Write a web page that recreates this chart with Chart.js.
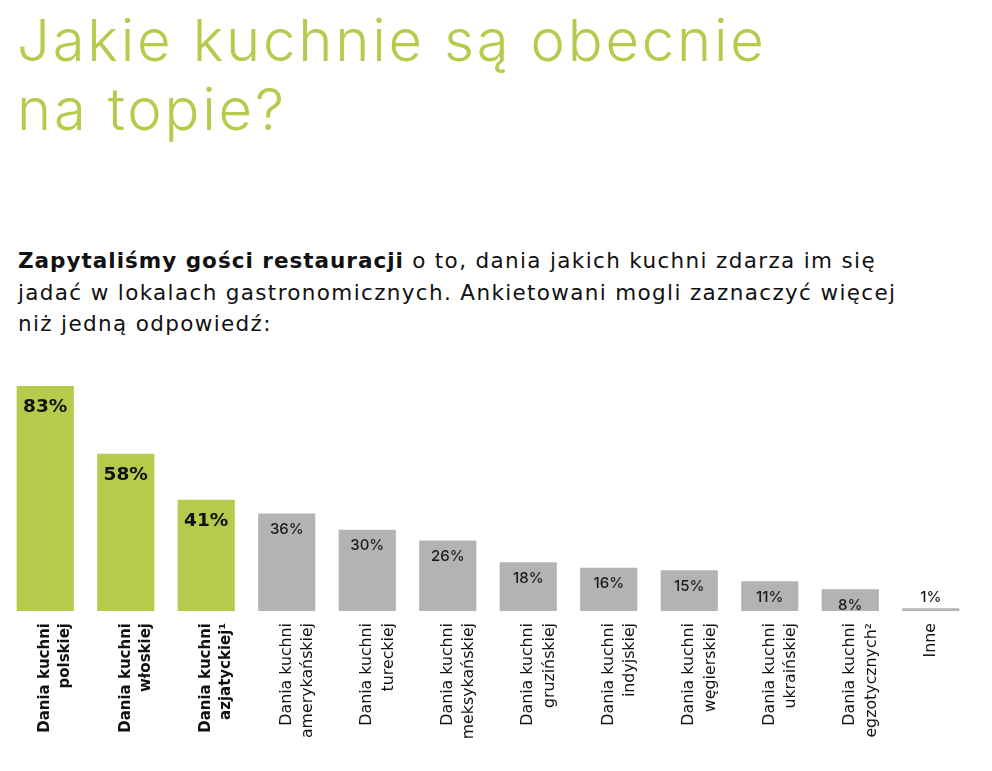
<!DOCTYPE html>
<html lang="pl">
<head>
<meta charset="utf-8">
<title>Jakie kuchnie są obecnie na topie?</title>
<script src="https://cdn.jsdelivr.net/npm/chart.js@4.4.1/dist/chart.umd.min.js"></script>
<style>
  html, body { margin: 0; padding: 0; background: #fff; }
  body { width: 992px; height: 771px; position: relative; overflow: hidden; font-family: "DejaVu Sans", sans-serif; }
  h1 {
    position: absolute; left: 17px; top: 6px; margin: 0;
    font-family: Inter, sans-serif;
    font-weight: 300; font-size: 58px; line-height: 69px; letter-spacing: 2.8px; color: #b6ca4b;
  }
  .lead {
    position: absolute; left: 18px; top: 245px; margin: 0;
    font-size: 21.5px; line-height: 31.5px; letter-spacing: 1.35px; color: #111; font-weight: 400;
  }
  .lead b { font-weight: 700; letter-spacing: 1px; }
  #chart { position: absolute; left: 0; top: 360px; }
</style>
</head>
<body>
<h1>Jakie kuchnie są obecnie<br>na topie?</h1>
<p class="lead"><b>Zapytaliśmy gości restauracji</b> o to, dania jakich kuchni zdarza im się<br>jadać w lokalach gastronomicznych. Ankietowani mogli zaznaczyć więcej<br>niż jedną odpowiedź:</p>
<canvas id="chart" width="992" height="411"></canvas>
<script>
// kategorie (dwie linie na etykietę)
const categories = [
  ['Dania kuchni', 'polskiej'],
  ['Dania kuchni', 'włoskiej'],
  ['Dania kuchni', 'azjatyckiej¹'],
  ['Dania kuchni', 'amerykańskiej'],
  ['Dania kuchni', 'tureckiej'],
  ['Dania kuchni', 'meksykańskiej'],
  ['Dania kuchni', 'gruzińskiej'],
  ['Dania kuchni', 'indyjskiej'],
  ['Dania kuchni', 'węgierskiej'],
  ['Dania kuchni', 'ukraińskiej'],
  ['Dania kuchni', 'egzotycznych²'],
  ['Inne']
];
const percents = [83, 58, 41, 36, 30, 26, 18, 16, 15, 11, 8, 1];
const highlighted = 3; // pierwsze trzy wyróżnione

const GREEN = '#b6ca4b';
const GREY = '#b3b3b3';
const FONT = '"DejaVu Sans", sans-serif';

const valueLabels = {
  id: 'valueLabels',
  afterDatasetsDraw(chart) {
    const ctx = chart.ctx;
    const meta = chart.getDatasetMeta(0);
    ctx.save();
    ctx.textAlign = 'center';
    meta.data.forEach((bar, i) => {
      const v = percents[i];
      const txt = v + '%';
      if (i < highlighted) {
        ctx.font = 'bold 18.5px ' + FONT;
        ctx.fillStyle = '#111';
        ctx.textBaseline = 'middle';
        ctx.fillText(txt, bar.x, bar.y + 21);
      } else if (v >= 5) {
        ctx.font = '500 15px Inter, sans-serif';
        ctx.fillStyle = '#1a1a1a';
        ctx.textBaseline = 'middle';
        ctx.fillText(txt, bar.x, bar.y + 16);
      } else {
        ctx.font = '500 15px Inter, sans-serif';
        ctx.fillStyle = '#1a1a1a';
        ctx.textBaseline = 'bottom';
        ctx.fillText(txt, bar.x, bar.y - 3);
      }
    });
    ctx.restore();
  }
};

Chart.defaults.font.family = FONT;
Chart.defaults.font.size = 15;

new Chart(document.getElementById('chart'), {
  type: 'bar',
  data: {
    labels: categories,
    datasets: [{
      data: percents,
      backgroundColor: percents.map((v, i) => i < highlighted ? GREEN : GREY),
      borderWidth: 0,
      barPercentage: 0.71,
      categoryPercentage: 1
    }]
  },
  options: {
    responsive: false,
    animation: false,
    layout: { padding: { left: 5, right: 21, top: 26, bottom: 0 } },
    plugins: { legend: { display: false }, tooltip: { enabled: false } },
    scales: {
      x: {
        grid: { display: false },
        border: { display: false },
        afterFit(scale) { scale.height = 160; },
        ticks: {
          autoSkip: false,
          maxRotation: 90,
          minRotation: 90,
          padding: 4,
          color: '#111',
          font: {
            family: FONT,
            size: (c) => c.index < highlighted ? 15 : 15.8,
            lineHeight: 1.35,
            weight: (c) => c.index < highlighted ? 'bold' : 'normal'
          }
        }
      },
      y: {
        display: false,
        min: 0,
        max: 83
      }
    }
  },
  plugins: [valueLabels]
});
</script>
</body>
</html>
